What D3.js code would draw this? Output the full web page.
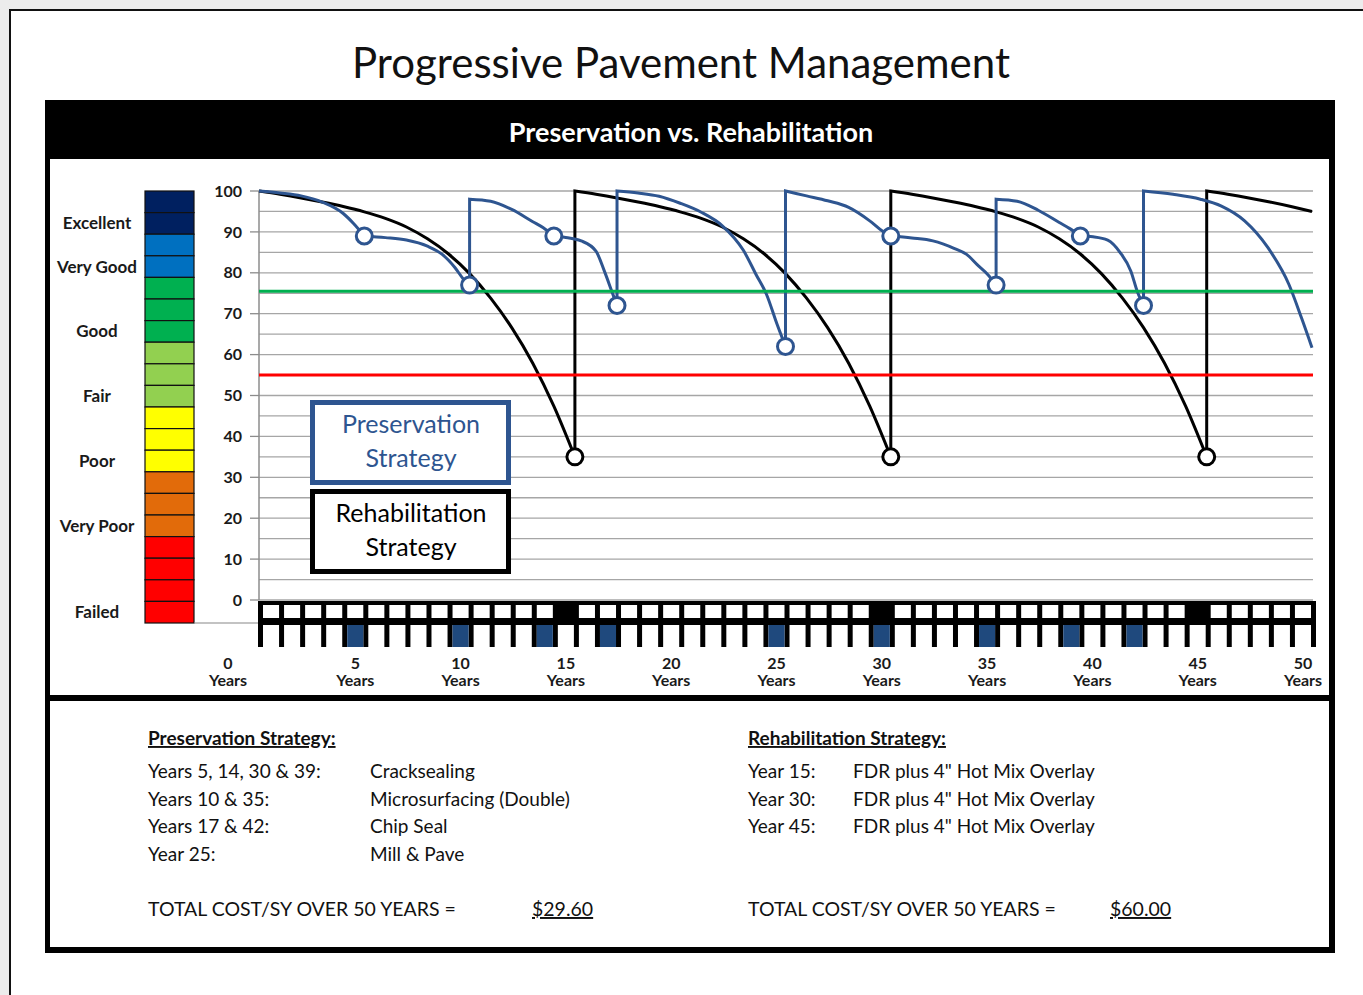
<!DOCTYPE html>
<html>
<head>
<meta charset="utf-8">
<script src="https://d3js.org/d3.v7.min.js"></script>
<style>
  body { margin: 0; background: #ececec; overflow: hidden; }
  svg text { font-family: Lato, 'Open Sans', sans-serif; }
</style>
</head>
<body>
<svg id="chart" width="1363" height="995"></svg>
<script>
// condition rating scale on the left
const ratingNames = ['Excellent', 'Very Good', 'Good', 'Fair', 'Poor', 'Very Poor', 'Failed'];
const ratingCells = [2, 2, 3, 3, 3, 3, 4];
const ratingColors = ['#002060', '#0070C0', '#00B050', '#92D050', '#FFFF00', '#E26B0A', '#FF0000'];

// rehabilitation strategy (black), one array per cycle, [year, condition]
const rehabCycles = [
  [[0, 100], [1, 99.2], [2, 98.3], [3, 97.3], [4, 96.2], [5, 94.9], [6, 93.3], [7, 91.2], [8, 88.3], [9, 84.6], [10, 79.8], [11, 73.8], [12, 66.6], [13, 57.9], [14, 47.4], [15, 35]],
  [[15, 100], [16, 99.2], [17, 98.3], [18, 97.3], [19, 96.2], [20, 94.9], [21, 93.3], [22, 91.2], [23, 88.3], [24, 84.6], [25, 79.8], [26, 73.8], [27, 66.6], [28, 57.9], [29, 47.4], [30, 35]],
  [[30, 100], [31, 99.2], [32, 98.3], [33, 97.3], [34, 96.2], [35, 94.9], [36, 93.3], [37, 91.2], [38, 88.3], [39, 84.6], [40, 79.8], [41, 73.8], [42, 66.6], [43, 57.9], [44, 47.4], [45, 35]],
  [[45, 100], [46, 99.2], [47, 98.3], [48, 97.3], [49, 96.2], [50, 95]]
];

// preservation strategy (blue), one array per treatment interval
const presSegments = [
  [[0, 100], [1, 99.5], [2, 98.8], [3, 97.3], [4, 94.5], [4.5, 92], [5, 89]],
  [[5, 89], [6, 88.6], [7, 88], [8, 86.5], [8.7, 84.5], [9.3, 81.3], [9.7, 78.5], [10, 77]],
  [[10, 98], [11, 97.5], [12, 95.5], [13, 92.5], [13.5, 91], [14, 89]],
  [[14, 89], [14.5, 88.7], [15.3, 87.8], [16, 85.3], [16.4, 80.4], [16.75, 75.5], [17, 72]],
  [[17, 100], [18, 99.5], [19, 98.7], [20, 97], [21, 94.8], [22, 91.5], [23, 85.5], [23.6, 79.6], [24.1, 74.7], [24.6, 67.4], [25, 62]],
  [[25, 100], [26, 98.8], [27, 97.6], [28, 96], [29, 92.7], [29.6, 90.2], [30, 89]],
  [[30, 89], [31, 88.5], [32, 87.8], [33, 86], [33.6, 84.5], [34.1, 82], [34.6, 79.6], [35, 77]],
  [[35, 98], [36, 97.5], [37, 95.3], [38, 92.3], [38.5, 90.8], [39, 89]],
  [[39, 89], [39.6, 88.8], [40.3, 88], [40.9, 84.9], [41.4, 80.4], [41.7, 75.5], [42, 72]],
  [[42, 100], [43.4, 99.2], [44.7, 98], [45.7, 96.3], [46.8, 92.7], [47.9, 86.2], [48.9, 77.2], [49.5, 69], [50, 61.7]]
];

// treatment markers
const presYears = [5, 10, 14, 17, 25, 30, 35, 39, 42];
const presValues = [89, 77, 89, 72, 62, 89, 77, 89, 72];
const rehabYears = [15, 30, 45];
const rehabValues = [35, 35, 35];

// trigger levels
const greenLevel = 75.5;
const redLevel = 55;

// axis labels
const yTicks = [0, 10, 20, 30, 40, 50, 60, 70, 80, 90, 100];
const yGrid = [0, 5, 10, 15, 20, 25, 30, 35, 40, 45, 50, 55, 60, 65, 70, 75, 80, 85, 90, 95, 100];
const xTicks = [0, 5, 10, 15, 20, 25, 30, 35, 40, 45, 50];

// text panel
const presLabel = 'Preservation Strategy:';
const presRows = ['Years 5, 14, 30 & 39:', 'Years 10 & 35:', 'Years 17 & 42:', 'Year 25:'];
const presTreatments = ['Cracksealing', 'Microsurfacing (Double)', 'Chip Seal', 'Mill & Pave'];
const presTotal = '$29.60';
const rehabLabel = 'Rehabilitation Strategy:';
const rehabRows = ['Year 15:', 'Year 30:', 'Year 45:'];
const rehabTreatments = ['FDR plus 4" Hot Mix Overlay', 'FDR plus 4" Hot Mix Overlay', 'FDR plus 4" Hot Mix Overlay'];
const rehabTotal = '$60.00';
const totalLabel = 'TOTAL COST/SY OVER 50 YEARS =';

const blue = '#2E5590';
const svg = d3.select('#chart');

// page
svg.append('rect').attr('x', 9).attr('y', 9).attr('width', 1354).attr('height', 986).attr('fill', '#fff');
svg.append('path').attr('d', 'M10,995V10H1363').attr('fill', 'none').attr('stroke', '#111').attr('stroke-width', 2);

svg.append('text').attr('x', 681).attr('y', 78).attr('text-anchor', 'middle')
  .attr('font-size', 42).attr('fill', '#111').text('Progressive Pavement Management');

// frame
svg.append('rect').attr('x', 45).attr('y', 100).attr('width', 1290).attr('height', 853).attr('fill', '#000');
svg.append('rect').attr('x', 50).attr('y', 159).attr('width', 1279).attr('height', 536).attr('fill', '#fff');
svg.append('rect').attr('x', 50).attr('y', 701).attr('width', 1279).attr('height', 246).attr('fill', '#fff');
svg.append('text').attr('x', 691).attr('y', 142).attr('text-anchor', 'middle')
  .attr('font-size', 27).attr('font-weight', 'bold').attr('fill', '#fff').text('Preservation vs. Rehabilitation');

const x = d3.scaleLinear().domain([0, 50]).range([259, 1312]);
const y = d3.scaleLinear().domain([0, 100]).range([600, 191]);

// rating bar
const cellColors = ratingColors.flatMap((c, i) => d3.range(ratingCells[i]).map(() => c));
const cellY = d3.scaleBand().domain(d3.range(cellColors.length)).range([191, 623]);
svg.append('g').selectAll('rect').data(cellColors).join('rect')
  .attr('x', 145).attr('y', (d, i) => cellY(i)).attr('width', 49).attr('height', cellY.bandwidth())
  .attr('fill', d => d).attr('stroke', '#111').attr('stroke-width', 1.2);
const lastCell = Array.from(d3.cumsum(ratingCells), c => c - 1);
svg.append('g').selectAll('text').data(ratingNames).join('text')
  .attr('x', 97).attr('y', (d, i) => cellY(lastCell[i]) + cellY.bandwidth() / 2)
  .attr('dy', '0.35em').attr('text-anchor', 'middle')
  .attr('font-size', 17).attr('font-weight', 'bold').attr('fill', '#1a1a1a').text(d => d);
svg.append('line').attr('x1', 194).attr('x2', x(0)).attr('y1', 623).attr('y2', 623)
  .attr('stroke', '#888').attr('stroke-width', 1.2);

// grid and y axis
svg.append('g').selectAll('line').data(yGrid).join('line')
  .attr('x1', x(0)).attr('x2', x(50) + 1).attr('y1', d => y(d)).attr('y2', d => y(d))
  .attr('stroke', '#a6a6a6').attr('stroke-width', 1.3);
svg.append('line').attr('x1', x(0)).attr('x2', x(0)).attr('y1', y(100)).attr('y2', y(0))
  .attr('stroke', '#8c8c8c').attr('stroke-width', 1.5);
const yAxis = svg.append('g');
yAxis.selectAll('line').data(yTicks).join('line')
  .attr('x1', x(0) - 9).attr('x2', x(0)).attr('y1', d => y(d)).attr('y2', d => y(d))
  .attr('stroke', '#8c8c8c').attr('stroke-width', 1.3);
yAxis.selectAll('text').data(yTicks).join('text')
  .attr('x', 242).attr('y', d => y(d)).attr('dy', '0.35em').attr('text-anchor', 'end')
  .attr('font-size', 16).attr('font-weight', 'bold').attr('fill', '#1a1a1a').text(d => d);

// curves
const line = d3.line().x(d => x(d[0])).y(d => y(d[1])).curve(d3.curveMonotoneX);
const joined = segs => segs.map((s, i) => i ? 'L' + line(s).slice(1) : line(s)).join('');
svg.append('path').attr('d', joined(rehabCycles)).attr('fill', 'none')
  .attr('stroke', '#000').attr('stroke-width', 3);
svg.append('path').attr('d', joined(presSegments)).attr('fill', 'none')
  .attr('stroke', blue).attr('stroke-width', 3);

// trigger lines
[[greenLevel, '#00B050'], [redLevel, '#FF0000']].forEach(([v, c]) => {
  svg.append('line').attr('x1', x(0)).attr('x2', x(50) + 1).attr('y1', y(v)).attr('y2', y(v))
    .attr('stroke', c).attr('stroke-width', 3);
});

// markers
svg.append('g').selectAll('circle').data(presYears).join('circle')
  .attr('cx', d => x(d)).attr('cy', (d, i) => y(presValues[i])).attr('r', 8)
  .attr('fill', '#fff').attr('stroke', blue).attr('stroke-width', 3);
svg.append('g').selectAll('circle').data(rehabYears).join('circle')
  .attr('cx', d => x(d)).attr('cy', (d, i) => y(rehabValues[i])).attr('r', 8)
  .attr('fill', '#fff').attr('stroke', '#000').attr('stroke-width', 3);

// legend boxes
const legend = [
  { lines: ['Preservation', 'Strategy'], color: blue, y0: 402.5 },
  { lines: ['Rehabilitation', 'Strategy'], color: '#000', y0: 491.5 }
];
legend.forEach(l => {
  svg.append('rect').attr('x', 312.5).attr('y', l.y0).attr('width', 196).attr('height', 80)
    .attr('fill', '#fff').attr('stroke', l.color).attr('stroke-width', 5);
  l.lines.forEach((t, i) => {
    svg.append('text').attr('x', 411).attr('y', l.y0 + 22 + i * 33.5).attr('dy', '0.35em')
      .attr('text-anchor', 'middle').attr('font-size', 25).attr('fill', l.color).text(t);
  });
});

// year strip
const strip = svg.append('g');
const years = d3.range(1, 51);
strip.append('rect').attr('x', x(0) - 1).attr('y', 601).attr('width', x(50) - x(0) + 5).attr('height', 24).attr('fill', '#000');
strip.selectAll('.top').data(years.filter(d => !rehabYears.includes(d))).join('rect')
  .attr('x', d => x(d - 1) + 4).attr('y', 605).attr('width', d => x(d) - x(d - 1) - 5).attr('height', 13)
  .attr('fill', '#fff');
strip.selectAll('.sep').data([0].concat(years)).join('rect')
  .attr('x', d => x(d) - 1).attr('y', 624).attr('width', 5).attr('height', 23).attr('fill', '#000');
strip.selectAll('.pres').data(presYears).join('rect')
  .attr('x', d => x(d - 1) + 4).attr('y', 625).attr('width', d => x(d) - x(d - 1) - 5).attr('height', 22)
  .attr('fill', '#1F497D');

// x labels
const xLab = svg.append('g').attr('font-size', 16).attr('font-weight', 'bold').attr('fill', '#1a1a1a')
  .attr('text-anchor', 'middle');
xTicks.forEach(t => {
  const cx = t === 0 ? x(0) - 31 : x(t) - 9;
  xLab.append('text').attr('x', cx).attr('y', 669).text(t);
  xLab.append('text').attr('x', cx).attr('y', 686).text('Years');
});

// text panel
const panel = svg.append('g').attr('fill', '#111');
function strategyBlock(x0, x1, title, rows, treatments, total, totalX) {
  panel.append('text').attr('x', x0).attr('y', 745).attr('font-size', 19).attr('font-weight', 'bold')
    .attr('text-decoration', 'underline').text(title);
  rows.forEach((r, i) => {
    panel.append('text').attr('x', x0).attr('y', 778 + i * 27.7).attr('font-size', 19).text(r);
    panel.append('text').attr('x', x1).attr('y', 778 + i * 27.7).attr('font-size', 19).text(treatments[i]);
  });
  panel.append('text').attr('x', x0).attr('y', 916).attr('font-size', 19.5).text(totalLabel);
  panel.append('text').attr('x', totalX).attr('y', 916).attr('font-size', 19.5)
    .attr('text-decoration', 'underline').text(total);
}
strategyBlock(148, 370, presLabel, presRows, presTreatments, presTotal, 532);
strategyBlock(748, 853, rehabLabel, rehabRows, rehabTreatments, rehabTotal, 1110);
</script>
</body>
</html>
